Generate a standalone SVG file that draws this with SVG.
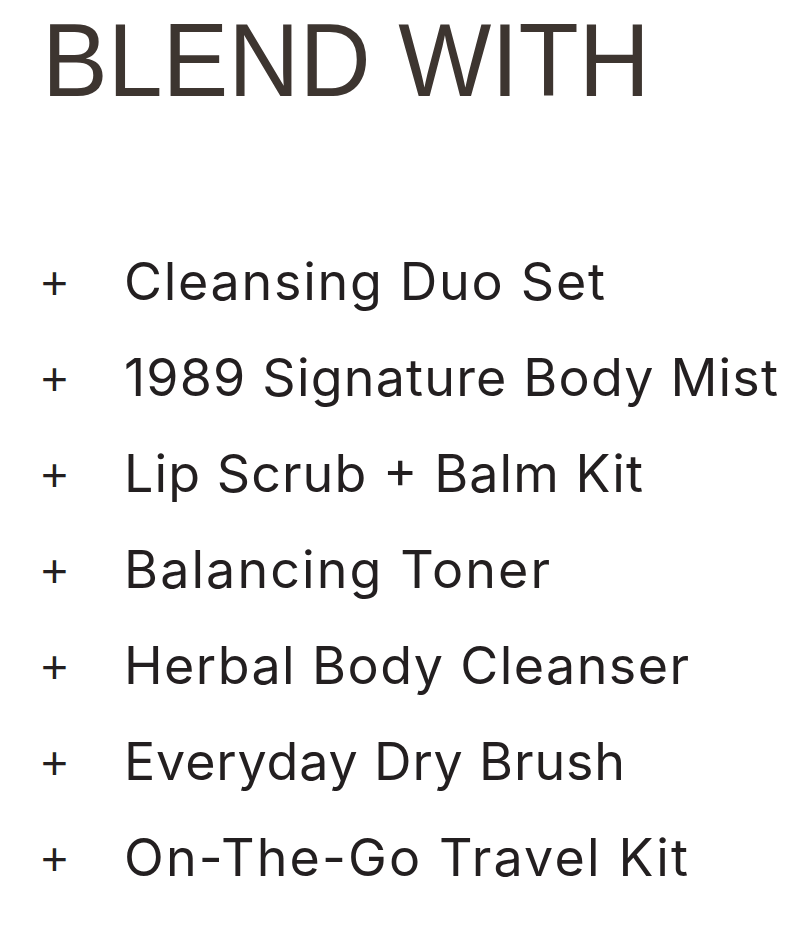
<svg xmlns="http://www.w3.org/2000/svg" width="800" height="925" viewBox="0 0 800 925">
<style>
.title{font-family:"Liberation Sans",Arial,sans-serif;font-size:104px;fill:#3d3530}
.plus{font-family:"Liberation Sans",Arial,sans-serif;font-size:46px;fill:#231f20}
.item{font-family:Inter,"Liberation Sans",Arial,sans-serif;font-size:52px;font-weight:400;fill:#231f20}
</style>
<rect width="800" height="925" fill="#ffffff"/>
<g id="title"><text class="title" x="42" y="96" textLength="608" lengthAdjust="spacingAndGlyphs">BLEND WITH</text></g>
<g id="item1"><text class="plus" x="41" y="299">+</text><text class="item" x="124" y="300" textLength="481" lengthAdjust="spacing">Cleansing Duo Set</text></g>
<g id="item2"><text class="plus" x="41" y="395">+</text><text class="item" x="124" y="396" textLength="654" lengthAdjust="spacing">1989 Signature Body Mist</text></g>
<g id="item3"><text class="plus" x="41" y="491">+</text><text class="item" x="124" y="492" textLength="519" lengthAdjust="spacing">Lip Scrub + Balm Kit</text></g>
<g id="item4"><text class="plus" x="41" y="587">+</text><text class="item" x="124" y="588" textLength="426" lengthAdjust="spacing">Balancing Toner</text></g>
<g id="item5"><text class="plus" x="41" y="683">+</text><text class="item" x="124" y="684" textLength="565" lengthAdjust="spacing">Herbal Body Cleanser</text></g>
<g id="item6"><text class="plus" x="41" y="779">+</text><text class="item" x="124" y="780" textLength="501" lengthAdjust="spacing">Everyday Dry Brush</text></g>
<g id="item7"><text class="plus" x="41" y="875">+</text><text class="item" x="124" y="876" textLength="564" lengthAdjust="spacing">On-The-Go Travel Kit</text></g>
</svg>
